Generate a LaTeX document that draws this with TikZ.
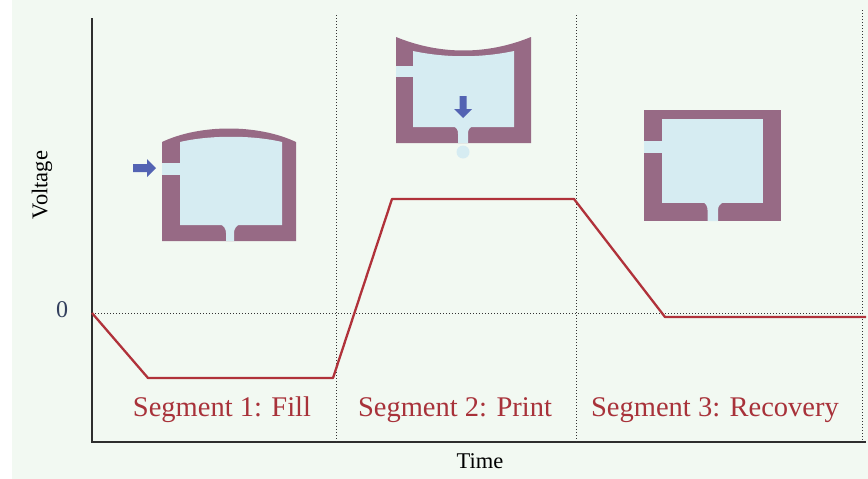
\documentclass[tikz,border=0pt]{standalone}
\usepackage{fontspec}
\setmainfont{Liberation Serif}
\begin{document}
\definecolor{panel}{HTML}{F2F9F2}
\definecolor{wall}{HTML}{976A85}
\definecolor{fluid}{HTML}{D6ECF2}
\definecolor{push}{HTML}{5363B3}
\definecolor{wave}{HTML}{B0323A}
\definecolor{seglabel}{HTML}{A8323A}
\definecolor{axis}{HTML}{2E2E2E}
\definecolor{zerolbl}{HTML}{33405E}
\begin{tikzpicture}[x=1pt,y=-1pt,
  axisline/.style={draw=axis,line width=1.5pt},
  guide/.style={draw=black!80,line width=1pt,dash pattern=on 1pt off 2pt},
  signal/.style={draw=wave,line width=2.3pt,line join=round},
  wallfill/.style={fill=wall},
  fluidfill/.style={fill=fluid},
  flowarrow/.style={fill=push},
  seg/.style={text=seglabel,font=\fontsize{28.5}{32}\selectfont,anchor=base},
  axislabel/.style={text=black,font=\fontsize{22.5}{26}\selectfont}]
\useasboundingbox (0,0) rectangle (868,479);
\fill[white] (0,0) rectangle (868,479);
\fill[panel] (12,0) rectangle (868,479);

% axes
\coordinate (ytop) at (92,18);
\coordinate (origin) at (92,442);
\coordinate (xend) at (866,442);
\draw[axisline] (ytop) -- (origin) -- (xend);

% zero level and segment boundaries
\coordinate (z0) at (92,313);
\coordinate (z1) at (862,313);
\draw[guide] (z0) -- (z1);
\foreach \x/\t in {336/15,576/15,862/10}
  \draw[guide] (\x,\t) -- (\x,442);

% drive waveform
\coordinate (w0) at (92,313);
\coordinate (w1) at (148,378);
\coordinate (w2) at (333,378);
\coordinate (w3) at (392,199);
\coordinate (w4) at (574,199);
\coordinate (w5) at (665,317);
\coordinate (w6) at (866,317);
\draw[signal] (w0) -- (w1) -- (w2) -- (w3) -- (w4) -- (w5) -- (w6);

% labels
\node[axislabel,rotate=90] (vlabel) at (42,185) {Voltage};
\node[axislabel,text=zerolbl,font=\fontsize{24}{28}\selectfont] (zlabel) at (62,310) {0};
\node[axislabel] (tlabel) at (480,461) {Time};
\node[seg] (s1) at (222,416) {Segment 1: Fill};
\node[seg] (s2) at (455,416) {Segment 2: Print};
\node[seg] (s3) at (715,416) {Segment 3: Recovery};

% chamber during fill: walls bulge outward
\fill[wallfill] (162,241) -- (162,142) .. controls (200,124) and (258,124) .. (296,142) -- (296,241) -- cycle;
\fill[fluidfill] (180,225) -- (180,142) .. controls (210,135) and (252,135) .. (282,142) -- (282,225) -- cycle;
\fill[fluidfill] (162,163) rectangle (181,175);
\fill[fluidfill] (220,224) .. controls (224,226) and (226,229) .. (226,233) -- (226,241) -- (234,241) -- (234,233) .. controls (234,229) and (236,226) .. (240,224) -- cycle;
\fill[flowarrow] (133,164) -- (147,164) -- (147,159) -- (156,168) -- (147,177) -- (147,172) -- (133,172) -- cycle;

% chamber during print: walls pressed inward
\fill[wallfill] (396,143) -- (396,37) .. controls (440,55) and (487,55) .. (531,37) -- (531,143) -- cycle;
\fill[fluidfill] (413,127) -- (413,51) .. controls (446,58) and (481,58) .. (514,51) -- (514,127) -- cycle;
\fill[fluidfill] (396,66) rectangle (414,77);
\fill[fluidfill] (453,126) .. controls (457,128) and (458,130) .. (458,134) -- (458,143) -- (468,143) -- (468,134) .. controls (468,130) and (469,128) .. (473,126) -- cycle;
\fill[fluidfill] (463,152) circle (6.5);
\fill[flowarrow] (459.5,96) -- (466.5,96) -- (466.5,109) -- (472,109) -- (463,118) -- (454,109) -- (459.5,109) -- cycle;

% chamber during recovery: walls at rest
\fill[wallfill] (644,110) rectangle (781,221);
\fill[fluidfill] (662,119) rectangle (763,203);
\fill[fluidfill] (644,141) rectangle (663,153);
\fill[fluidfill] (703,202) .. controls (706,204) and (707.5,206) .. (707.5,210) -- (707.5,221) -- (718,221) -- (718,210) .. controls (718,206) and (720,204) .. (724,202) -- cycle;
\end{tikzpicture}
\end{document}
